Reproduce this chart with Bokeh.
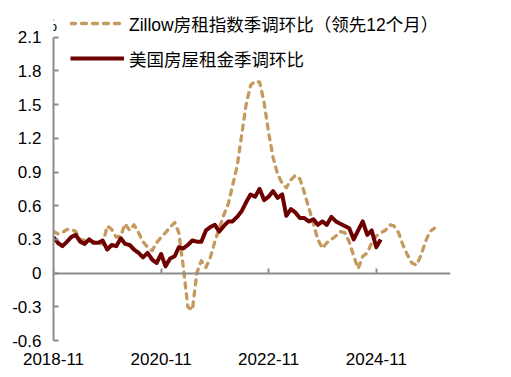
import pandas as pd
from datetime import datetime
from bokeh.plotting import figure
from bokeh.models import (DatetimeAxis, LinearAxis, FixedTicker, NumeralTickFormatter,
                          DatetimeTickFormatter, Legend, LegendItem, Label, Range1d,
                          CustomJSTickFormatter)
from bokeh.embed import file_html
from bokeh.resources import INLINE

# ---- data ----
zillow_start = "2018-11-01"
zillow_values = [
    0.37, 0.35, 0.36, 0.39, 0.39, 0.37, 0.30, 0.29, 0.29, 0.28, 0.26, 0.26,
    0.42, 0.39, 0.32, 0.33, 0.44, 0.38, 0.43, 0.36, 0.28, 0.23, 0.20, 0.27,
    0.32, 0.36, 0.41, 0.45, 0.36, 0.05, -0.30, -0.33, 0.00, 0.11, 0.05, 0.14,
    0.28, 0.40, 0.52, 0.62, 0.78, 0.95, 1.22, 1.50, 1.67, 1.71, 1.70, 1.52,
    1.25, 1.03, 0.88, 0.80, 0.76, 0.83, 0.87, 0.84, 0.72, 0.58, 0.44, 0.30,
    0.22, 0.27, 0.30, 0.33, 0.37, 0.36, 0.28, 0.15, 0.04, 0.15, 0.18, 0.27,
    0.33, 0.36, 0.38, 0.43, 0.42, 0.36, 0.25, 0.16, 0.09, 0.07, 0.16, 0.28,
    0.37, 0.40,
]
rent_start = "2018-11-01"
rent_values = [
    0.32, 0.27, 0.24, 0.28, 0.32, 0.34, 0.28, 0.26, 0.30, 0.27, 0.27, 0.29,
    0.21, 0.25, 0.24, 0.31, 0.26, 0.25, 0.21, 0.18, 0.14, 0.18, 0.12, 0.09,
    0.17, 0.06, 0.13, 0.15, 0.23, 0.22, 0.25, 0.29, 0.28, 0.28, 0.38, 0.41,
    0.43, 0.37, 0.42, 0.46, 0.46, 0.50, 0.55, 0.63, 0.70, 0.68, 0.75, 0.65,
    0.68, 0.73, 0.67, 0.70, 0.51, 0.57, 0.54, 0.49, 0.49, 0.46, 0.48, 0.43,
    0.46, 0.43, 0.50, 0.46, 0.44, 0.42, 0.40, 0.30, 0.38, 0.46, 0.34, 0.38,
    0.23, 0.30,
]
zillow_label = "Zillow房租指数季调环比（领先12个月）"
rent_label = "美国房屋租金季调环比"
x_tick_labels = ["2018-11", "2020-11", "2022-11", "2024-11"]
y_ticks = [-0.6, -0.3, 0, 0.3, 0.6, 0.9, 1.2, 1.5, 1.8, 2.1]

zillow_dates = pd.date_range(zillow_start, periods=len(zillow_values), freq="MS")
rent_dates = pd.date_range(rent_start, periods=len(rent_values), freq="MS")

ZCOL = "#C49A5E"
RCOL = "#6E0000"
GRAY = "#8C8C8C"
FONT = "Liberation Sans"
CJK_FONT = "Liberation Sans, Noto Sans CJK SC"

p = figure(width=511, height=377, x_axis_type=None, y_axis_type=None,
           x_range=Range1d(datetime(2018, 11, 1), datetime(2026, 3, 20)),
           y_range=Range1d(-0.6, 2.427),
           output_backend="svg", toolbar_location=None,
           min_border_left=53, min_border_right=61, min_border_top=0,
           min_border_bottom=37)
p.outline_line_color = None
p.background_fill_color = "white"
p.border_fill_color = "white"

r_z = p.line(zillow_dates, zillow_values, line_color=ZCOL, line_width=3.3,
             line_dash="5 6", line_cap="round", line_join="round")
r_r = p.line(rent_dates, rent_values, line_color=RCOL, line_width=4,
             line_join="round")

tick_ms = [pd.Timestamp(t + "-01").value // 10**6 for t in x_tick_labels]

# y axis
yax = LinearAxis(ticker=FixedTicker(ticks=y_ticks), bounds=(-0.6, 2.1),
                 formatter=NumeralTickFormatter(format="0.0"))
yax.major_label_overrides = {0: "0"}
yax.major_tick_in = 5
yax.major_tick_out = 0
yax.minor_tick_line_color = None
yax.axis_line_color = GRAY
yax.axis_line_width = 2
yax.major_tick_line_color = GRAY
yax.major_tick_line_width = 2
yax.major_label_standoff = 12
yax.major_label_text_font = FONT
yax.major_label_text_font_size = "17px"
yax.major_label_text_color = "black"
p.add_layout(yax, "left")

# bottom labels axis
xax = DatetimeAxis(ticker=FixedTicker(ticks=tick_ms),
                   formatter=DatetimeTickFormatter(years="%Y-%m", months="%Y-%m",
                                                   days="%Y-%m"))
xax.axis_line_color = None
xax.major_tick_line_color = None
xax.minor_tick_line_color = None
xax.major_tick_in = 0
xax.major_tick_out = 0
xax.major_label_standoff = 12
xax.major_label_text_font = FONT
xax.major_label_text_font_size = "17px"
xax.major_label_text_color = "black"
p.add_layout(xax, "below")

# zero line axis with ticks
zax = DatetimeAxis(fixed_location=0, ticker=FixedTicker(ticks=tick_ms),
                   formatter=CustomJSTickFormatter(code="return ''"))
zax.axis_line_color = GRAY
zax.axis_line_width = 2
zax.major_tick_line_color = GRAY
zax.major_tick_line_width = 2
zax.major_tick_in = 5
zax.major_tick_out = 0
zax.minor_tick_line_color = None
p.add_layout(zax, "below")

legend = Legend(items=[LegendItem(label=zillow_label, renderers=[r_z]),
                       LegendItem(label=rent_label, renderers=[r_r])],
                location=(17, 269))
legend.padding = 0
legend.margin = 0
legend.border_line_color = None
legend.background_fill_alpha = 0
legend.glyph_width = 54
legend.glyph_height = 26
legend.label_height = 26
legend.spacing = 9
legend.label_standoff = 5
legend.label_text_font = CJK_FONT
legend.label_text_font_size = "17.5px"
legend.label_text_color = "black"
p.add_layout(legend)

pct = Label(x=datetime(2018, 10, 5), y=2.2, text="%", text_align="center",
            text_baseline="middle", text_font=FONT, text_font_size="17px",
            text_color="black")
p.add_layout(pct)

open("out.html", "w").write(file_html(p, INLINE))
